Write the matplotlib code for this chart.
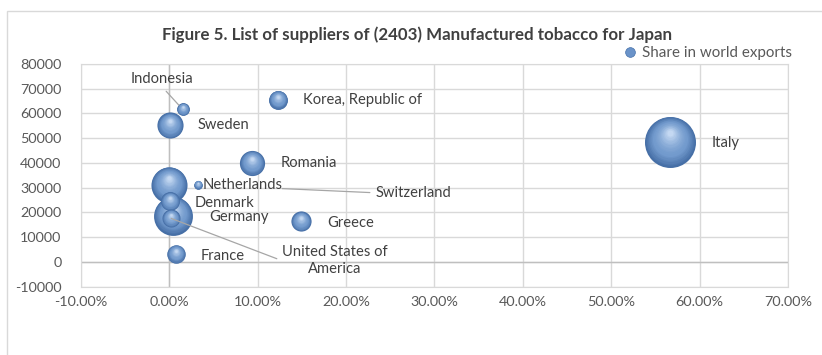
import matplotlib.pyplot as plt
import numpy as np
from matplotlib.patches import Rectangle
from matplotlib.lines import Line2D
from matplotlib.transforms import offset_copy
from matplotlib.ticker import FuncFormatter, MultipleLocator

plt.rcParams['font.family'] = ['Lato', 'DejaVu Sans']

# data
countries = ['Indonesia', 'Korea, Republic of', 'Sweden', 'Romania', 'Italy',
             'Netherlands', 'Switzerland', 'Denmark', 'Germany', 'Greece',
             'France', 'United States of\nAmerica']
growth_pct = [1.5, 12.3, 0.1, 9.4, 56.7, 0.0, 3.2, 0.1, 0.4, 14.9, 0.7, 0.2]
imports = [61700, 65500, 55200, 39900, 48600, 31200, 31200, 24500, 18700, 16400, 3200, 17600]
world_share = [1.0, 2.2, 4.2, 3.9, 16.0, 8.0, 0.45, 2.2, 9.3, 2.5, 2.1, 2.0]

# label placement (offset points from bubble, alignment, leader line)
label_style = {
    'Indonesia': dict(off=(-15, 21.5), ha='center', line=dict(relpos=(0.5, 0), shrinkB=4)),
    'Korea, Republic of': dict(off=(18, 0), ha='left'),
    'Sweden': dict(off=(19.5, 0), ha='left'),
    'Romania': dict(off=(20, 0), ha='left'),
    'Italy': dict(off=(29.5, -0.7), ha='left'),
    'Netherlands': dict(off=(24, 0), ha='left'),
    'Switzerland': dict(off=(128, -5.8), ha='left', line=dict(relpos=(0, 0.5), shrinkB=61)),
    'Denmark': dict(off=(17.3, -1), ha='left'),
    'Germany': dict(off=(26, -0.8), ha='left'),
    'Greece': dict(off=(18.7, -1), ha='left'),
    'France': dict(off=(18, -1.2), ha='left'),
    'United States of\nAmerica': dict(off=(118, -30.5), ha='center', line=dict(relpos=(0, 0.5), shrinkB=0)),
}

fig = plt.figure(figsize=(8.22, 3.55), dpi=100)
ax = fig.add_axes([0.0985, 0.1924, 0.8601, 0.6273])

# outer chart border
fig.patches.append(Rectangle((7 / 822, -0.05), 1.1, 1 - 11 / 355 + 0.05, transform=fig.transFigure,
                             fill=False, edgecolor='#d9d9d9', lw=1))

# shaded bubbles, biggest first so small ones sit on top
edge = np.array([0x46, 0x6f, 0xa6]) / 255
mid = np.array([0x72, 0x9a, 0xcd]) / 255
light = np.array([0xc4, 0xd8, 0xf2]) / 255
n_layers = 18
order = np.argsort(world_share)[::-1]
for k, idx in enumerate(order):
    x, y, share = growth_pct[idx], imports[idx], world_share[idx]
    r_pt = 4.59 * np.sqrt(share)
    for i in range(n_layers):
        u = i / (n_layers - 1)
        f = 1 - 0.88 * u
        if u < 0.35:
            t = u / 0.35
            col = edge * (1 - t) + mid * t
        else:
            t = ((u - 0.35) / 0.65) ** 1.5
            col = mid * (1 - t) + light * t
        shift = (1 - f) * r_pt * 0.4
        tr = offset_copy(ax.transData, fig=fig, x=0, y=shift, units='points')
        ax.scatter([x], [y], s=(2 * r_pt * f) ** 2, color=col, lw=0, transform=tr,
                   zorder=3 + k * 0.05 + i * 0.001)

for name, x, y in zip(countries, growth_pct, imports):
    st = label_style[name]
    kw = {}
    if 'line' in st:
        kw['arrowprops'] = dict(arrowstyle='-', color='#a6a6a6', lw=0.9,
                                relpos=st['line']['relpos'], shrinkA=2, shrinkB=st['line']['shrinkB'])
    ax.annotate(name, (x, y), xytext=st['off'], textcoords='offset points',
                ha=st['ha'], va='center', fontsize=10.6, color='#404040',
                multialignment='center', linespacing=1.3, zorder=5, **kw)

ax.set_xlim(-10, 70)
ax.set_ylim(-10000, 80000)
ax.xaxis.set_major_locator(MultipleLocator(10))
ax.yaxis.set_major_locator(MultipleLocator(10000))
ax.xaxis.set_major_formatter(FuncFormatter(lambda v, p: f'{v:.2f}%'))
ax.yaxis.set_major_formatter(FuncFormatter(lambda v, p: f'{v:.0f}'))
ax.grid(True, color='#d9d9d9', lw=1)
ax.set_axisbelow(True)
ax.axhline(0, color='#bfbfbf', lw=1, zorder=1)
ax.axvline(0, color='#bfbfbf', lw=1, zorder=1)
for sp in ax.spines.values():
    sp.set_color('#d9d9d9')
ax.tick_params(length=0, labelsize=10.4, colors='#595959')
ax.tick_params(axis='y', pad=14)
ax.tick_params(axis='x', pad=7)

fig.text(0.507, 0.901, 'Figure 5. List of suppliers of (2403) Manufactured tobacco for Japan',
         ha='center', va='center', fontsize=12.2, fontweight='bold', color='#404040')

handle = Line2D([], [], marker='o', ls='', markersize=7, markerfacecolor='#6a93c9',
                markeredgecolor='#4671aa', markeredgewidth=0.5)
ax.legend([handle], ['Share in world exports'], loc='lower right', bbox_to_anchor=(1.018, 0.978),
          frameon=False, fontsize=10.9, handletextpad=0.3, borderpad=0.1, labelcolor='#595959',
          handlelength=1.0)

fig.savefig('out.png', dpi=100)
